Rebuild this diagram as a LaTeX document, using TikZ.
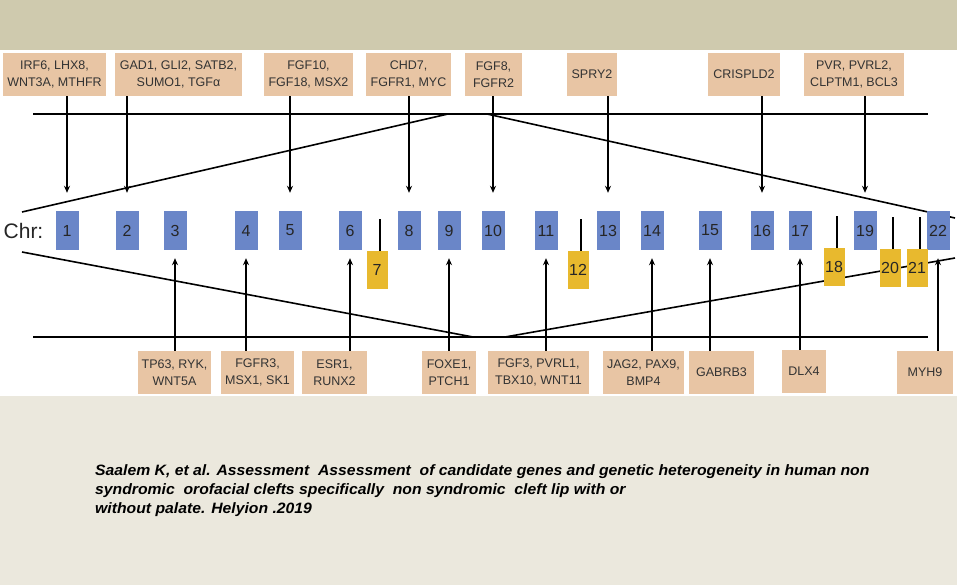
\documentclass[tikz,border=0pt]{standalone}
\usepackage{fontspec}
\setmainfont{Liberation Sans}
\usetikzlibrary{arrows.meta,calc}
\definecolor{topband}{HTML}{CFCAAE}
\definecolor{botband}{HTML}{EBE8DD}
\definecolor{genefill}{HTML}{E8C5A4}
\definecolor{chrblue}{HTML}{6A86C8}
\definecolor{chryel}{HTML}{E8B92E}
\definecolor{txtdark}{HTML}{333333}
\tikzset{
  genebox/.style={fill=genefill, inner sep=0pt, minimum height=43pt, align=center,
    text=txtdark, font=\fontsize{12.5}{17}\selectfont},
  chrbox/.style={fill=chrblue, inner sep=0pt, minimum width=23pt, minimum height=39pt,
    text=black!85, font=\fontsize{16}{16}\selectfont},
  yelbox/.style={fill=chryel, inner sep=0pt, minimum width=21pt, minimum height=38pt,
    text=black!85, font=\fontsize{16}{16}\selectfont},
  arr/.style={line width=1.6pt, -{Stealth[length=7pt,width=6pt]}},
  plainline/.style={line width=1.6pt},
  tick/.style={line width=1.6pt}
}
\begin{document}
\begin{tikzpicture}[x=1pt,y=-1pt]
\useasboundingbox (0,0) rectangle (957,585);
\fill[white] (0,0) rectangle (957,585);
\fill[topband] (0,0) rectangle (957,50);
\fill[botband] (0,396) rectangle (957,585);

% frame lines
\draw[plainline] (33,114) -- (928,114);
\draw[plainline] (33,337) -- (928,337);
\draw[plainline] (448,114) -- (22,212);
\draw[plainline] (487,114) -- (955,218);
\draw[plainline] (22,252) -- (473,337);
\draw[plainline] (505,337) -- (955,258);

% chromosome label
\node[font=\fontsize{21}{21}\selectfont, text=black!85] (chr) at (23.5,231) {Chr:};

% blue chromosomes
\foreach \n/\x in {1/67,2/127,3/175,4/246,5/290,6/350,8/409,9/449,10/493,
  11/546,13/608,14/652,15/710,16/762,17/800,19/865,22/938}
  \node[chrbox] (c\n) at (\x,230.5) {\n};
% yellow chromosomes
\foreach \n/\x/\y in {7/377/270,12/578/270,18/834/267,20/890/268,21/917/268}
  \node[yelbox] (c\n) at (\x,\y) {\n};
\foreach \n in {7,12}
  \draw[tick] ([xshift=3pt]c\n.north) -- ++(0,-32);
\foreach \n in {18,20,21}
  \draw[tick] ([xshift=3pt]c\n.north) -- ++(0,-32);

% top gene boxes
\node[genebox, minimum width=103pt] (tg1) at (54.5,74.5) {IRF6, LHX8,\\WNT3A, MTHFR};
\node[genebox, minimum width=127pt] (tg2) at (178.5,74.5) {GAD1, GLI2, SATB2,\\SUMO1, TGFα};
\node[genebox, minimum width=89pt] (tg3) at (308.5,74.5) {FGF10,\\FGF18, MSX2};
\node[genebox, minimum width=85pt] (tg4) at (408.5,74.5) {CHD7,\\FGFR1, MYC};
\node[genebox, minimum width=57pt] (tg5) at (493.5,74.5) {FGF8,\\FGFR2};
\node[genebox, minimum width=50pt] (tg6) at (592,74.5) {SPRY2};
\node[genebox, minimum width=72pt] (tg7) at (744,74.5) {CRISPLD2};
\node[genebox, minimum width=100pt] (tg8) at (854,74.5) {PVR, PVRL2,\\CLPTM1, BCL3};

% bottom gene boxes
\node[genebox, minimum width=73pt] (bg1) at (174.5,372.5) {TP63, RYK,\\WNT5A};
\node[genebox, minimum width=73pt] (bg2) at (257.5,372.5) {FGFR3,\\MSX1, SK1};
\node[genebox, minimum width=65pt] (bg3) at (334.5,372.5) {ESR1,\\RUNX2};
\node[genebox, minimum width=54pt] (bg4) at (449,372.5) {FOXE1,\\PTCH1};
\node[genebox, minimum width=101pt] (bg5) at (538.5,372.5) {FGF3, PVRL1,\\TBX10, WNT11};
\node[genebox, minimum width=81pt] (bg6) at (643.5,372.5) {JAG2, PAX9,\\BMP4};
\node[genebox, minimum width=65pt] (bg7) at (721.5,372.5) {GABRB3};
\node[genebox, minimum width=44pt] (bg8) at (804,371.5) {DLX4};
\node[genebox, minimum width=56pt] (bg9) at (925,372.5) {MYH9};

% top arrows
\foreach \g/\c in {tg1/c1,tg2/c2,tg3/c5,tg4/c8,tg5/c10,tg6/c13,tg7/c16,tg8/c19}
  \draw[arr, shorten >=18pt] (\g.south -| \c.north) -- (\c.north);
% bottom arrows
\foreach \g/\c in {bg1/c3,bg2/c4,bg3/c6,bg4/c9,bg5/c11,bg6/c14,bg7/c15,bg8/c17,bg9/c22}
  \draw[arr, shorten >=8pt] (\g.north -| \c.south) -- (\c.south);

% citation
\node[anchor=west, inner sep=0pt] (cite) at (95,491) {\scalebox{1.05}[1]{%
  \fontsize{15}{19}\selectfont\bfseries\itshape
  \begin{tabular}{@{}l@{}}
  Saalem K, et al. Assessment\ \ Assessment\ \ of candidate genes and genetic heterogeneity in human non\\
  syndromic\ \ orofacial clefts specifically\ \ non syndromic\ \ cleft lip with or\\
  without palate. Helyion .2019
  \end{tabular}}};
\end{tikzpicture}
\end{document}
